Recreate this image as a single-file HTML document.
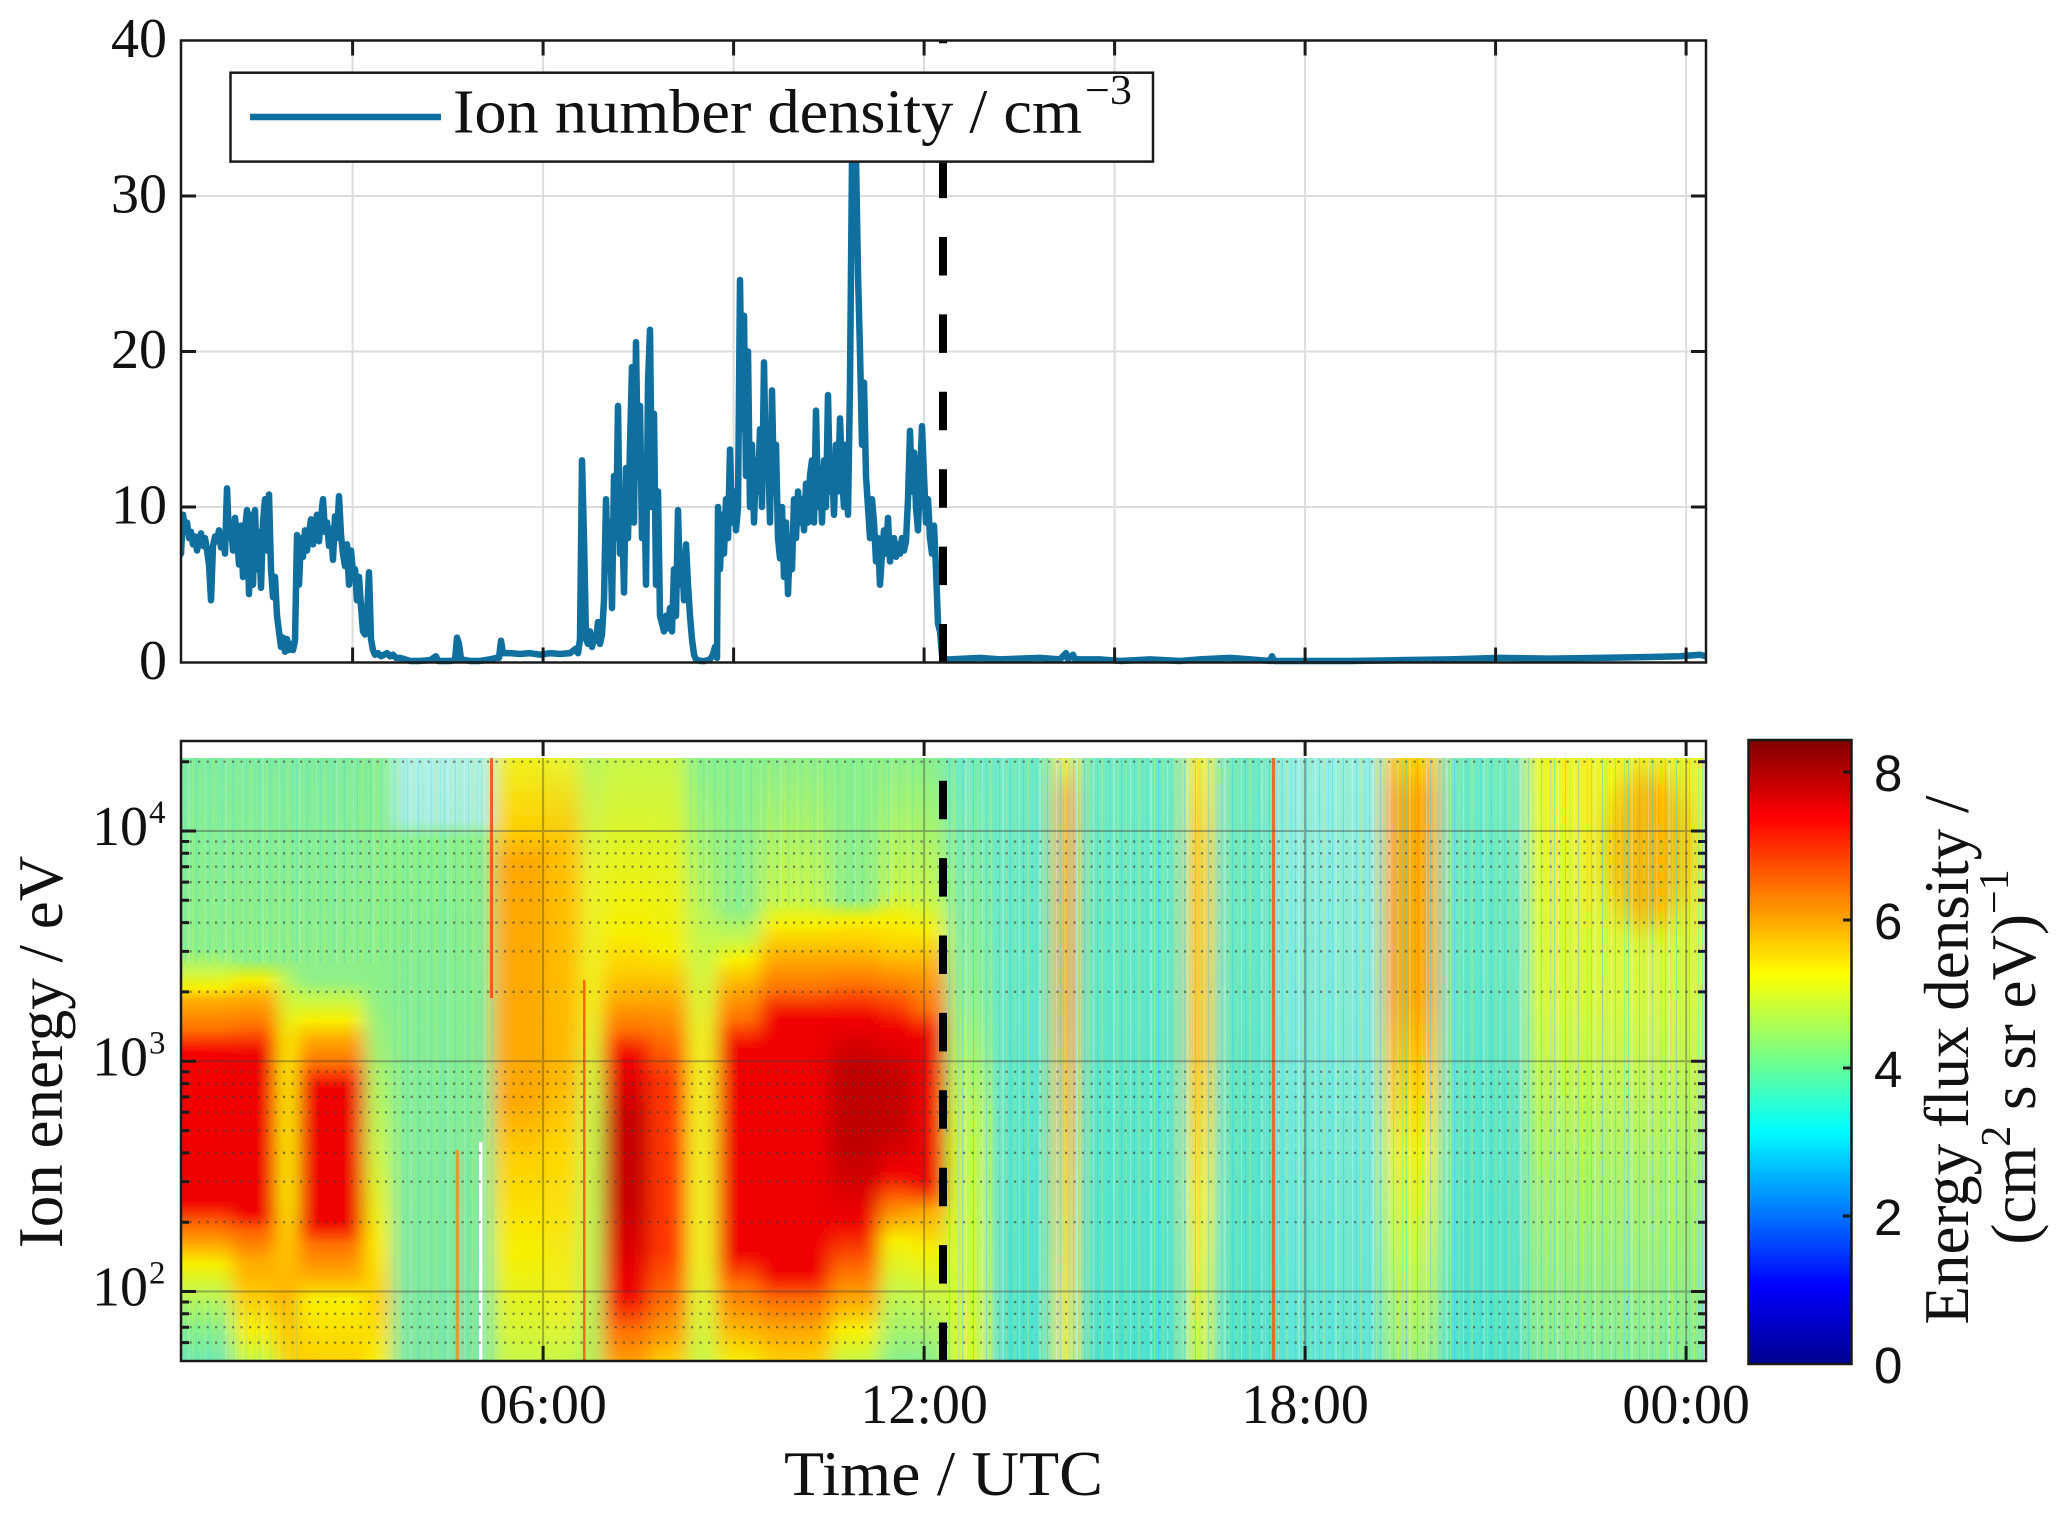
<!DOCTYPE html>
<html><head><meta charset="utf-8"><style>html,body{margin:0;padding:0;background:#fff}svg{display:block}</style></head>
<body>
<svg xmlns="http://www.w3.org/2000/svg" width="2067" height="1526" viewBox="0 0 2067 1526">
<defs>
<clipPath id="cSpec"><rect x="181" y="758" width="1523" height="603"/></clipPath>
<clipPath id="cTop"><rect x="181" y="30" width="1525" height="640"/></clipPath>
<filter id="hb" x="-3%" y="0" width="106%" height="100%"><feGaussianBlur stdDeviation="9 0"/></filter>
<filter id="bb" x="-50%" y="-50%" width="200%" height="200%"><feGaussianBlur stdDeviation="14"/></filter>
<pattern id="st" patternUnits="userSpaceOnUse" width="37" height="10">
<rect x="0" y="0" width="1" height="10" fill="#38d8f0" opacity=".55"/>
<rect x="3" y="0" width="2" height="10" fill="#d8fbf4" opacity=".35"/>
<rect x="7" y="0" width="1" height="10" fill="#f0f030" opacity=".35"/>
<rect x="11" y="0" width="1" height="10" fill="#28d0e8" opacity=".5"/>
<rect x="15" y="0" width="2" height="10" fill="#a0f070" opacity=".35"/>
<rect x="20" y="0" width="1" height="10" fill="#ffffff" opacity=".3"/>
<rect x="24" y="0" width="1" height="10" fill="#30d4e8" opacity=".45"/>
<rect x="28" y="0" width="2" height="10" fill="#e8f040" opacity=".3"/>
<rect x="33" y="0" width="1" height="10" fill="#50e0f0" opacity=".4"/>
</pattern>
<linearGradient id="jet" x1="0" y1="0" x2="0" y2="1">
<stop offset="0" stop-color="#800000"/><stop offset=".125" stop-color="#ff0000"/><stop offset=".375" stop-color="#ffff00"/><stop offset=".625" stop-color="#00ffff"/><stop offset=".875" stop-color="#0000ff"/><stop offset="1" stop-color="#00008f"/>
</linearGradient>
<linearGradient id="gA" gradientUnits="userSpaceOnUse" x1="0" y1="0" x2="0" y2="2000">
<stop offset=".379" stop-color="#80eca0"/><stop offset=".475" stop-color="#8ef088"/><stop offset=".486" stop-color="#c8f84a"/><stop offset=".494" stop-color="#f8f000"/><stop offset=".5" stop-color="#ffb000"/><stop offset=".515" stop-color="#ff7000"/><stop offset=".527" stop-color="#f40000"/><stop offset=".6" stop-color="#f00000"/><stop offset=".611" stop-color="#ff6000"/><stop offset=".622" stop-color="#ffa800"/><stop offset=".632" stop-color="#f8f000"/><stop offset=".645" stop-color="#c8f84a"/><stop offset=".665" stop-color="#88f08c"/><stop offset=".681" stop-color="#70e8b0"/>
</linearGradient>
<linearGradient id="gB" gradientUnits="userSpaceOnUse" x1="0" y1="0" x2="0" y2="2000">
<stop offset=".379" stop-color="#80eca0"/><stop offset=".48" stop-color="#8ef088"/><stop offset=".49" stop-color="#f8f000"/><stop offset=".5" stop-color="#ffa800"/><stop offset=".513" stop-color="#ff7000"/><stop offset=".528" stop-color="#f00000"/><stop offset=".605" stop-color="#f00000"/><stop offset=".615" stop-color="#ff6000"/><stop offset=".63" stop-color="#ffa800"/><stop offset=".65" stop-color="#ffd000"/><stop offset=".665" stop-color="#f8f000"/><stop offset=".681" stop-color="#c8f84a"/>
</linearGradient>
<linearGradient id="gC" gradientUnits="userSpaceOnUse" x1="0" y1="0" x2="0" y2="2000">
<stop offset=".379" stop-color="#80eca0"/><stop offset=".48" stop-color="#90f088"/><stop offset=".495" stop-color="#c8f84a"/><stop offset=".52" stop-color="#f8f000"/><stop offset=".6" stop-color="#f8f000"/><stop offset=".625" stop-color="#ffd000"/><stop offset=".65" stop-color="#ffa800"/><stop offset=".681" stop-color="#ffd000"/>
</linearGradient>
<linearGradient id="gD" gradientUnits="userSpaceOnUse" x1="0" y1="0" x2="0" y2="2000">
<stop offset=".379" stop-color="#80eca0"/><stop offset=".49" stop-color="#8ef088"/><stop offset=".5" stop-color="#c8f84a"/><stop offset=".51" stop-color="#f8f000"/><stop offset=".52" stop-color="#ffa800"/><stop offset=".532" stop-color="#ff7000"/><stop offset=".545" stop-color="#f00000"/><stop offset=".61" stop-color="#f00000"/><stop offset=".622" stop-color="#ff7000"/><stop offset=".637" stop-color="#ffa800"/><stop offset=".65" stop-color="#f8f000"/><stop offset=".681" stop-color="#ffd000"/>
</linearGradient>
<linearGradient id="gE" gradientUnits="userSpaceOnUse" x1="0" y1="0" x2="0" y2="2000">
<stop offset=".379" stop-color="#88f08c"/><stop offset=".5" stop-color="#8cf088"/><stop offset=".575" stop-color="#c8f84a"/><stop offset=".62" stop-color="#f8f000"/><stop offset=".65" stop-color="#ffd000"/><stop offset=".681" stop-color="#f8f000"/>
</linearGradient>
<linearGradient id="gF" gradientUnits="userSpaceOnUse" x1="0" y1="0" x2="0" y2="2000">
<stop offset=".379" stop-color="#b0f0e4"/><stop offset=".41" stop-color="#a8eee0"/><stop offset=".42" stop-color="#88f08c"/><stop offset=".681" stop-color="#7ee8a4"/>
</linearGradient>
<linearGradient id="gJ" gradientUnits="userSpaceOnUse" x1="0" y1="0" x2="0" y2="2000">
<stop offset=".379" stop-color="#f0f020"/><stop offset=".415" stop-color="#ffd000"/><stop offset=".43" stop-color="#ffa800"/><stop offset=".55" stop-color="#ffa800"/><stop offset=".58" stop-color="#ffd000"/><stop offset=".625" stop-color="#f8f000"/><stop offset=".681" stop-color="#c8f84a"/>
</linearGradient>
<linearGradient id="gK1" gradientUnits="userSpaceOnUse" x1="0" y1="0" x2="0" y2="2000">
<stop offset=".379" stop-color="#e8f430"/><stop offset=".425" stop-color="#ffc000"/><stop offset=".54" stop-color="#ffb800"/><stop offset=".575" stop-color="#ffd800"/><stop offset=".65" stop-color="#f0f020"/><stop offset=".681" stop-color="#c8f84a"/>
</linearGradient>
<linearGradient id="gK2" gradientUnits="userSpaceOnUse" x1="0" y1="0" x2="0" y2="2000">
<stop offset=".379" stop-color="#b8f460"/><stop offset=".44" stop-color="#e8f430"/><stop offset=".5" stop-color="#f0f020"/><stop offset=".55" stop-color="#c8f84a"/><stop offset=".681" stop-color="#b0f060"/>
</linearGradient>
<linearGradient id="gL" gradientUnits="userSpaceOnUse" x1="0" y1="0" x2="0" y2="2000">
<stop offset=".379" stop-color="#c8f84a"/><stop offset=".465" stop-color="#f8f000"/><stop offset=".485" stop-color="#ffd000"/><stop offset=".5" stop-color="#ffa800"/><stop offset=".515" stop-color="#ff7000"/><stop offset=".53" stop-color="#f00000"/><stop offset=".56" stop-color="#c80000"/><stop offset=".6" stop-color="#c80000"/><stop offset=".645" stop-color="#f00000"/><stop offset=".665" stop-color="#ff7000"/><stop offset=".681" stop-color="#ffa000"/>
</linearGradient>
<linearGradient id="gM" gradientUnits="userSpaceOnUse" x1="0" y1="0" x2="0" y2="2000">
<stop offset=".379" stop-color="#c8f84a"/><stop offset=".475" stop-color="#f8f000"/><stop offset=".5" stop-color="#ffa800"/><stop offset=".52" stop-color="#ff7000"/><stop offset=".54" stop-color="#ff3800"/><stop offset=".625" stop-color="#ff3800"/><stop offset=".65" stop-color="#ff7000"/><stop offset=".67" stop-color="#ffa800"/><stop offset=".681" stop-color="#ffd000"/>
</linearGradient>
<linearGradient id="gN" gradientUnits="userSpaceOnUse" x1="0" y1="0" x2="0" y2="2000">
<stop offset=".379" stop-color="#88f08c"/><stop offset=".475" stop-color="#c8f84a"/><stop offset=".525" stop-color="#f0f020"/><stop offset=".625" stop-color="#f0f020"/><stop offset=".681" stop-color="#c8f84a"/>
</linearGradient>
<linearGradient id="gO" gradientUnits="userSpaceOnUse" x1="0" y1="0" x2="0" y2="2000">
<stop offset=".379" stop-color="#88f08c"/><stop offset=".455" stop-color="#90f088"/><stop offset=".47" stop-color="#c8f84a"/><stop offset=".48" stop-color="#f8f000"/><stop offset=".495" stop-color="#ffa800"/><stop offset=".51" stop-color="#ff7000"/><stop offset=".525" stop-color="#f00000"/><stop offset=".625" stop-color="#f00000"/><stop offset=".642" stop-color="#ff7000"/><stop offset=".66" stop-color="#ffa800"/><stop offset=".681" stop-color="#f8f000"/>
</linearGradient>
<linearGradient id="gP" gradientUnits="userSpaceOnUse" x1="0" y1="0" x2="0" y2="2000">
<stop offset=".379" stop-color="#90f088"/><stop offset=".45" stop-color="#c8f84a"/><stop offset=".4625" stop-color="#f8f000"/><stop offset=".48" stop-color="#ffa800"/><stop offset=".495" stop-color="#ff7000"/><stop offset=".51" stop-color="#f00000"/><stop offset=".635" stop-color="#f00000"/><stop offset=".65" stop-color="#ff7000"/><stop offset=".665" stop-color="#ffa800"/><stop offset=".681" stop-color="#ffd000"/>
</linearGradient>
<linearGradient id="gQ" gradientUnits="userSpaceOnUse" x1="0" y1="0" x2="0" y2="2000">
<stop offset=".379" stop-color="#88f08c"/><stop offset=".45" stop-color="#90f088"/><stop offset=".46" stop-color="#f8f000"/><stop offset=".47" stop-color="#ffd000"/><stop offset=".48" stop-color="#ffa800"/><stop offset=".4925" stop-color="#ff7000"/><stop offset=".51" stop-color="#f00000"/><stop offset=".535" stop-color="#c00000"/><stop offset=".575" stop-color="#c00000"/><stop offset=".61" stop-color="#f00000"/><stop offset=".635" stop-color="#ff7000"/><stop offset=".65" stop-color="#ffa800"/><stop offset=".665" stop-color="#f8f000"/><stop offset=".681" stop-color="#c8f84a"/>
</linearGradient>
<linearGradient id="gR" gradientUnits="userSpaceOnUse" x1="0" y1="0" x2="0" y2="2000">
<stop offset=".379" stop-color="#90f088"/><stop offset=".445" stop-color="#c8f84a"/><stop offset=".46" stop-color="#f8f000"/><stop offset=".475" stop-color="#ffd000"/><stop offset=".495" stop-color="#ff7000"/><stop offset=".515" stop-color="#f00000"/><stop offset=".54" stop-color="#c40000"/><stop offset=".565" stop-color="#c40000"/><stop offset=".585" stop-color="#f00000"/><stop offset=".6" stop-color="#ff7000"/><stop offset=".62" stop-color="#f8f000"/><stop offset=".645" stop-color="#c8f84a"/><stop offset=".681" stop-color="#88f08c"/>
</linearGradient>
<linearGradient id="gS" gradientUnits="userSpaceOnUse" x1="0" y1="0" x2="0" y2="2000">
<stop offset=".379" stop-color="#88f08c"/><stop offset=".45" stop-color="#c8f84a"/><stop offset=".465" stop-color="#f8f000"/><stop offset=".485" stop-color="#ffa800"/><stop offset=".505" stop-color="#ff7000"/><stop offset=".52" stop-color="#f00000"/><stop offset=".59" stop-color="#f00000"/><stop offset=".605" stop-color="#ffa800"/><stop offset=".625" stop-color="#f8f000"/><stop offset=".65" stop-color="#c8f84a"/><stop offset=".681" stop-color="#88f08c"/>
</linearGradient>
<linearGradient id="gRB" gradientUnits="userSpaceOnUse" x1="0" y1="0" x2="0" y2="2000">
<stop offset=".379" stop-color="#72eac2"/><stop offset=".681" stop-color="#50e2cc"/>
</linearGradient>
<linearGradient id="gT" gradientUnits="userSpaceOnUse" x1="0" y1="0" x2="0" y2="2000">
<stop offset=".379" stop-color="#72eac2"/><stop offset=".5" stop-color="#90f090"/><stop offset=".56" stop-color="#c0f850"/><stop offset=".681" stop-color="#d8f830"/>
</linearGradient>
<linearGradient id="gU" gradientUnits="userSpaceOnUse" x1="0" y1="0" x2="0" y2="2000">
<stop offset=".379" stop-color="#f8f000"/><stop offset=".4" stop-color="#ffb000"/><stop offset=".5" stop-color="#ffa800"/><stop offset=".575" stop-color="#ffc800"/><stop offset=".681" stop-color="#f0f020"/>
</linearGradient>
<linearGradient id="gV" gradientUnits="userSpaceOnUse" x1="0" y1="0" x2="0" y2="2000">
<stop offset=".379" stop-color="#f8f000"/><stop offset=".425" stop-color="#ffd000"/><stop offset=".525" stop-color="#ffc800"/><stop offset=".6" stop-color="#f8f000"/><stop offset=".681" stop-color="#d0f840"/>
</linearGradient>
<linearGradient id="gX" gradientUnits="userSpaceOnUse" x1="0" y1="0" x2="0" y2="2000">
<stop offset=".379" stop-color="#98eee0"/><stop offset=".681" stop-color="#60e4d4"/>
</linearGradient>
<linearGradient id="gY" gradientUnits="userSpaceOnUse" x1="0" y1="0" x2="0" y2="2000">
<stop offset=".379" stop-color="#ffd000"/><stop offset=".4" stop-color="#ffa800"/><stop offset=".5" stop-color="#ffa800"/><stop offset=".54" stop-color="#ffd000"/><stop offset=".575" stop-color="#f0f020"/><stop offset=".625" stop-color="#c8f84a"/><stop offset=".681" stop-color="#a0f080"/>
</linearGradient>
<linearGradient id="gZ" gradientUnits="userSpaceOnUse" x1="0" y1="0" x2="0" y2="2000">
<stop offset=".379" stop-color="#f0f428"/><stop offset=".5" stop-color="#d8f840"/><stop offset=".575" stop-color="#b0f468"/><stop offset=".681" stop-color="#88ec98"/>
</linearGradient>
</defs>

<rect x="0" y="0" width="2067" height="1526" fill="#ffffff"/>

<!-- ================= TOP AXES ================= -->
<g stroke="#dcdcdc" stroke-width="2">
<line x1="181" y1="507" x2="1706" y2="507"/>
<line x1="181" y1="351.5" x2="1706" y2="351.5"/>
<line x1="181" y1="196" x2="1706" y2="196"/>
<line x1="352.6" y1="40.5" x2="352.6" y2="662.5"/>
<line x1="543.1" y1="40.5" x2="543.1" y2="662.5"/>
<line x1="733.6" y1="40.5" x2="733.6" y2="662.5"/>
<line x1="924.1" y1="40.5" x2="924.1" y2="662.5"/>
<line x1="1114.6" y1="40.5" x2="1114.6" y2="662.5"/>
<line x1="1305.1" y1="40.5" x2="1305.1" y2="662.5"/>
<line x1="1495.6" y1="40.5" x2="1495.6" y2="662.5"/>
<line x1="1686.1" y1="40.5" x2="1686.1" y2="662.5"/>
</g>

<g clip-path="url(#cTop)">
<polyline transform="matrix(1,0,0,-15.55,0,662.5)" vector-effect="non-scaling-stroke" fill="none" stroke="#0f6f9e" stroke-width="6.5" stroke-linejoin="round" stroke-linecap="round"
points="181,7.0 183,9.5 185,8.6 187,9.0 189,8.0 191,8.4 193,7.6 195,8.1 197,7.2 199,7.9 201,8.3 203,7.5 205,8.0 207,7.2 209,6.3 211,4.0 213,7.5 215,8.1 217,7.8 219,8.5 221,7.4 223,8.2 225,7.0 227,11.2 229,8.0 231,9.0 233,7.2 235,9.3 237,8.2 239,6.3 241,8.8 243,5.5 245,8.5 247,9.8 249,4.4 251,9.5 253,5.0 255,9.8 257,6.0 259,8.4 261,4.8 263,9.0 265,10.5 267,7.2 269,10.8 271,6.0 273,4.2 275,5.5 277,3.0 279,2.0 281,1.0 283,1.6 285,0.7 287,1.5 289,0.8 291,1.2 293,0.8 295,1.4 297,8.2 299,5.0 301,8.0 303,6.8 305,8.5 307,7.2 309,8.3 311,9.2 313,7.6 315,8.8 317,9.5 319,7.8 321,9.3 323,10.5 325,8.4 327,9.0 329,7.5 331,8.6 333,6.6 335,9.4 337,8.0 339,10.7 341,8.2 343,7.0 345,6.2 347,7.6 349,5.0 351,7.2 353,5.8 355,6.0 357,4.0 359,5.5 361,3.6 363,2.0 365,1.8 367,3.0 369,5.8 371,1.5 373,0.8 375,0.5 378,0.6 381,0.4 384,0.5 387,0.6 390,0.4 393,0.5 396,0.3 400,0.3 405,0.2 410,0.1 420,0.1 430,0.15 436,0.4 438,0.1 450,0.1 455,0.15 457,1.6 459,1.2 461,0.2 470,0.1 480,0.1 490,0.2 496,0.3 499,0.3 501,1.4 503,0.6 510,0.6 520,0.55 530,0.6 540,0.5 550,0.6 560,0.55 570,0.6 576,0.9 578,0.6 580,1.5 582,13.0 584,8.0 586,1.5 588,1.2 590,2.0 592,1.0 594,1.6 596,1.4 598,2.6 600,1.2 602,1.8 604,4.0 606,10.5 608,6.0 610,9.0 612,3.5 614,12.0 616,8.0 618,16.5 620,7.0 622,10.0 624,4.5 626,12.5 628,8.0 630,14.0 632,19.0 634,9.0 636,20.6 638,12.0 640,16.5 642,8.0 644,13.0 646,5.0 648,18.0 650,21.4 652,10.0 654,16.0 656,5.0 658,11.0 660,3.0 662,2.5 664,2.0 666,3.0 668,2.2 670,3.5 672,2.0 674,6.0 676,3.0 678,9.8 680,5.0 682,7.0 684,4.0 686,7.6 688,5.0 690,3.0 692,1.5 694,0.5 696,0.2 700,0.1 705,0.1 710,0.2 713,0.5 715,1.0 717,0.3 718,10.0 720,6.0 722,9.5 724,7.0 726,10.5 728,8.0 730,13.7 732,9.0 734,11.0 736,8.5 738,10.0 740,24.6 742,15.0 744,22.3 746,12.0 748,20.0 750,10.0 752,14.0 754,9.0 756,13.0 758,11.0 760,15.0 762,10.0 764,19.3 766,12.0 768,14.0 770,9.0 772,17.5 774,11.0 776,14.0 778,8.0 780,6.7 782,10.0 784,5.5 786,9.0 788,4.4 790,8.0 792,6.0 794,10.5 796,8.0 798,11.0 800,9.0 802,10.5 804,8.5 806,11.5 808,9.0 810,12.0 812,13.0 814,9.0 816,16.2 818,10.0 820,12.5 822,9.0 824,13.0 826,10.0 828,17.2 830,11.0 832,13.0 834,9.5 836,14.0 838,11.0 840,15.7 842,12.0 844,10.0 846,14.0 848,9.5 850,18.0 852,32.3 854,30.0 856,32.5 858,25.0 860,20.0 862,14.0 864,18.0 866,12.0 868,10.0 870,8.0 872,10.5 874,9.0 876,6.5 878,8.0 880,5.0 882,7.0 884,8.5 886,7.0 888,9.3 890,6.5 892,7.5 894,8.0 896,6.8 898,7.6 900,7.0 902,8.0 904,7.2 906,7.8 908,10.5 910,14.9 912,11.0 914,13.5 916,10.0 918,8.5 920,12.0 922,15.2 924,12.0 926,9.0 928,10.5 930,8.0 932,7.0 934,8.8 936,6.0 938,2.5 940,2.0 942,0.5 944,0.3 946,0.2 950,0.2 980,0.3 1000,0.2 1040,0.3 1060,0.2 1066,0.6 1068,0.2 1073,0.5 1075,0.2 1100,0.2 1120,0.1 1150,0.2 1180,0.1 1200,0.2 1230,0.3 1250,0.2 1270,0.1 1272,0.4 1274,0.1 1300,0.1 1350,0.1 1400,0.15 1450,0.2 1500,0.3 1550,0.25 1600,0.3 1650,0.35 1680,0.4 1700,0.5 1706,0.4"/>
</g>

<!-- dashed line top -->
<line x1="943" y1="662.5" x2="943" y2="40.5" stroke="#000" stroke-width="8" stroke-dasharray="38.5 38.9"/>

<!-- legend -->
<rect x="230.5" y="72.7" width="922.5" height="88.9" fill="#fff" stroke="#1a1a1a" stroke-width="2.5"/>
<line x1="250" y1="117" x2="441" y2="117" stroke="#0f6f9e" stroke-width="6.5"/>
<text x="453" y="132.5" font-family="'Liberation Serif', serif" font-size="62" fill="#111" textLength="629" lengthAdjust="spacingAndGlyphs">Ion number density / cm</text>
<text x="1085" y="104" font-family="'Liberation Serif', serif" font-size="42" fill="#111" textLength="47" lengthAdjust="spacingAndGlyphs">−3</text>

<!-- top axes box & ticks -->
<rect x="181" y="40.5" width="1525" height="622" fill="none" stroke="#1a1a1a" stroke-width="2.5"/>
<g stroke="#1a1a1a" stroke-width="3">
<line x1="181" y1="507" x2="196" y2="507"/><line x1="181" y1="351.5" x2="196" y2="351.5"/><line x1="181" y1="196" x2="196" y2="196"/>
<line x1="1706" y1="507" x2="1691" y2="507"/><line x1="1706" y1="351.5" x2="1691" y2="351.5"/><line x1="1706" y1="196" x2="1691" y2="196"/>
<line x1="352.6" y1="662.5" x2="352.6" y2="647.5"/><line x1="543.1" y1="662.5" x2="543.1" y2="647.5"/><line x1="733.6" y1="662.5" x2="733.6" y2="647.5"/><line x1="924.1" y1="662.5" x2="924.1" y2="647.5"/><line x1="1114.6" y1="662.5" x2="1114.6" y2="647.5"/><line x1="1305.1" y1="662.5" x2="1305.1" y2="647.5"/><line x1="1495.6" y1="662.5" x2="1495.6" y2="647.5"/><line x1="1686.1" y1="662.5" x2="1686.1" y2="647.5"/>
<line x1="352.6" y1="40.5" x2="352.6" y2="55.5"/><line x1="543.1" y1="40.5" x2="543.1" y2="55.5"/><line x1="733.6" y1="40.5" x2="733.6" y2="55.5"/><line x1="924.1" y1="40.5" x2="924.1" y2="55.5"/><line x1="1114.6" y1="40.5" x2="1114.6" y2="55.5"/><line x1="1305.1" y1="40.5" x2="1305.1" y2="55.5"/><line x1="1495.6" y1="40.5" x2="1495.6" y2="55.5"/><line x1="1686.1" y1="40.5" x2="1686.1" y2="55.5"/>
</g>
<g font-family="'Liberation Serif', serif" font-size="56" fill="#111" text-anchor="end">
<text x="167" y="679">0</text>
<text x="167" y="523.5">10</text>
<text x="167" y="368">20</text>
<text x="167" y="212.5">30</text>
<text x="167" y="57">40</text>
</g>

<!-- ================= BOTTOM AXES (spectrogram) ================= -->
<g clip-path="url(#cSpec)">
<g filter="url(#hb)">
<rect x="940" y="758" width="790" height="604" fill="url(#gRB)"/>
<rect x="150" y="758" width="82" height="604" fill="url(#gA)"/>
<rect x="232" y="758" width="46" height="604" fill="url(#gB)"/>
<rect x="278" y="758" width="19" height="604" fill="url(#gC)"/>
<rect x="297" y="758" width="68" height="604" fill="url(#gD)"/>
<rect x="365" y="758" width="27" height="604" fill="url(#gE)"/>
<rect x="392" y="758" width="101" height="604" fill="url(#gF)"/>
<rect x="493" y="758" width="52" height="604" fill="url(#gJ)"/>
<rect x="545" y="758" width="35" height="604" fill="url(#gK1)"/>
<rect x="580" y="758" width="23" height="604" fill="url(#gK2)"/>
<rect x="603" y="758" width="47" height="604" fill="url(#gL)"/>
<rect x="650" y="758" width="37" height="604" fill="url(#gM)"/>
<rect x="687" y="758" width="30" height="604" fill="url(#gN)"/>
<rect x="717" y="758" width="43" height="604" fill="url(#gO)"/>
<rect x="760" y="758" width="70" height="604" fill="url(#gP)"/>
<rect x="830" y="758" width="50" height="604" fill="url(#gQ)"/>
<rect x="880" y="758" width="32" height="604" fill="url(#gR)"/>
<rect x="912" y="758" width="34" height="604" fill="url(#gS)"/>
<rect x="946" y="758" width="44" height="604" fill="url(#gT)"/>
<rect x="1054" y="758" width="23" height="604" fill="url(#gU)"/>
<rect x="1186" y="758" width="28" height="604" fill="url(#gV)"/>
<rect x="1276" y="758" width="107" height="604" fill="url(#gX)"/>
<rect x="1383" y="758" width="57" height="604" fill="url(#gY)"/>
<rect x="1527" y="758" width="203" height="604" fill="url(#gZ)"/>
</g>
<ellipse cx="1648" cy="850" rx="42" ry="80" fill="#ffa000" opacity=".75" filter="url(#bb)"/>
<!-- streak texture -->
<rect x="946" y="758" width="760" height="604" fill="url(#st)" opacity=".85"/>
<rect x="181" y="758" width="312" height="205" fill="url(#st)" opacity=".55"/>
<rect x="392" y="963" width="101" height="399" fill="url(#st)" opacity=".5"/>
<rect x="181" y="1300" width="116" height="62" fill="url(#st)" opacity=".45"/>
<rect x="687" y="758" width="230" height="150" fill="url(#st)" opacity=".45"/>
<!-- thin features -->
<rect x="479" y="1142" width="3.5" height="220" fill="#ffffff"/>
<rect x="490" y="758" width="3" height="240" fill="#ff4000" opacity=".8"/>
<rect x="456" y="1150" width="3" height="212" fill="#ff8000" opacity=".7"/>
<rect x="583" y="980" width="2.5" height="382" fill="#ff3000" opacity=".7"/>
<rect x="1272" y="758" width="3" height="604" fill="#ff5000" opacity=".8"/>
<!-- grid -->
<g stroke="#404040" stroke-width="2" opacity=".4">
<line x1="181" y1="831" x2="1706" y2="831"/>
<line x1="181" y1="1061.25" x2="1706" y2="1061.25"/>
<line x1="181" y1="1291.5" x2="1706" y2="1291.5"/>
<line x1="543.1" y1="741" x2="543.1" y2="1361"/>
<line x1="924.1" y1="741" x2="924.1" y2="1361"/>
<line x1="1305.1" y1="741" x2="1305.1" y2="1361"/>
<line x1="1686.1" y1="741" x2="1686.1" y2="1361"/>
</g>
<g stroke="#3a3a3a" stroke-width="2.2" stroke-dasharray="2.2 6.3" opacity=".6">
<line x1="181" y1="761.7" x2="1706" y2="761.7"/>
<line x1="181" y1="841.5" x2="1706" y2="841.5"/>
<line x1="181" y1="853.3" x2="1706" y2="853.3"/>
<line x1="181" y1="866.7" x2="1706" y2="866.7"/>
<line x1="181" y1="882.1" x2="1706" y2="882.1"/>
<line x1="181" y1="900.3" x2="1706" y2="900.3"/>
<line x1="181" y1="922.6" x2="1706" y2="922.6"/>
<line x1="181" y1="951.4" x2="1706" y2="951.4"/>
<line x1="181" y1="991.9" x2="1706" y2="991.9"/>
<line x1="181" y1="1071.8" x2="1706" y2="1071.8"/>
<line x1="181" y1="1083.6" x2="1706" y2="1083.6"/>
<line x1="181" y1="1096.9" x2="1706" y2="1096.9"/>
<line x1="181" y1="1112.3" x2="1706" y2="1112.3"/>
<line x1="181" y1="1130.6" x2="1706" y2="1130.6"/>
<line x1="181" y1="1152.9" x2="1706" y2="1152.9"/>
<line x1="181" y1="1181.6" x2="1706" y2="1181.6"/>
<line x1="181" y1="1222.2" x2="1706" y2="1222.2"/>
<line x1="181" y1="1302" x2="1706" y2="1302"/>
<line x1="181" y1="1313.8" x2="1706" y2="1313.8"/>
<line x1="181" y1="1327.2" x2="1706" y2="1327.2"/>
<line x1="181" y1="1342.6" x2="1706" y2="1342.6"/>
</g>
</g>

<!-- dashed line bottom -->
<line x1="943" y1="1361" x2="943" y2="741" stroke="#000" stroke-width="8" stroke-dasharray="38.5 38.9"/>

<!-- bottom axes box & ticks -->
<rect x="181" y="741" width="1525" height="620" fill="none" stroke="#1a1a1a" stroke-width="2.5"/>
<g stroke="#1a1a1a" stroke-width="3">
<line x1="181" y1="831" x2="196" y2="831"/><line x1="181" y1="1061.25" x2="196" y2="1061.25"/><line x1="181" y1="1291.5" x2="196" y2="1291.5"/>
<line x1="1706" y1="831" x2="1691" y2="831"/><line x1="1706" y1="1061.25" x2="1691" y2="1061.25"/><line x1="1706" y1="1291.5" x2="1691" y2="1291.5"/>
<line x1="543.1" y1="1361" x2="543.1" y2="1346"/><line x1="924.1" y1="1361" x2="924.1" y2="1346"/><line x1="1305.1" y1="1361" x2="1305.1" y2="1346"/><line x1="1686.1" y1="1361" x2="1686.1" y2="1346"/>
<line x1="543.1" y1="741" x2="543.1" y2="756"/><line x1="924.1" y1="741" x2="924.1" y2="756"/><line x1="1305.1" y1="741" x2="1305.1" y2="756"/><line x1="1686.1" y1="741" x2="1686.1" y2="756"/>
</g>
<g stroke="#1a1a1a" stroke-width="3">
<path d="M181 761.7h8M181 841.5h8M181 853.3h8M181 866.7h8M181 882.1h8M181 900.3h8M181 922.6h8M181 951.4h8M181 991.9h8M181 1071.8h8M181 1083.6h8M181 1096.9h8M181 1112.3h8M181 1130.6h8M181 1152.9h8M181 1181.6h8M181 1222.2h8M181 1302h8M181 1313.8h8M181 1327.2h8M181 1342.6h8"/>
<path d="M1706 761.7h-8M1706 841.5h-8M1706 853.3h-8M1706 866.7h-8M1706 882.1h-8M1706 900.3h-8M1706 922.6h-8M1706 951.4h-8M1706 991.9h-8M1706 1071.8h-8M1706 1083.6h-8M1706 1096.9h-8M1706 1112.3h-8M1706 1130.6h-8M1706 1152.9h-8M1706 1181.6h-8M1706 1222.2h-8M1706 1302h-8M1706 1313.8h-8M1706 1327.2h-8M1706 1342.6h-8"/>
</g>

<!-- bottom y tick labels -->
<g font-family="'Liberation Serif', serif" fill="#111">
<text x="148" y="845" font-size="56" text-anchor="end">10</text><text x="149" y="823" font-size="33">4</text>
<text x="148" y="1075.25" font-size="56" text-anchor="end">10</text><text x="149" y="1053.25" font-size="33">3</text>
<text x="148" y="1305.5" font-size="56" text-anchor="end">10</text><text x="149" y="1283.5" font-size="33">2</text>
</g>
<!-- x tick labels -->
<g font-family="'Liberation Serif', serif" font-size="56" fill="#111" text-anchor="middle">
<text x="543.1" y="1423">06:00</text>
<text x="924.1" y="1423">12:00</text>
<text x="1305.1" y="1423">18:00</text>
<text x="1686.1" y="1423">00:00</text>
</g>
<text x="943.5" y="1495" font-family="'Liberation Serif', serif" font-size="63" fill="#111" text-anchor="middle" textLength="319" lengthAdjust="spacingAndGlyphs">Time / UTC</text>
<text transform="translate(62,1052) rotate(-90)" font-family="'Liberation Serif', serif" font-size="63" fill="#111" text-anchor="middle">Ion energy / eV</text>

<!-- ================= COLORBAR ================= -->
<rect x="1748.5" y="740" width="103" height="624" fill="url(#jet)" stroke="#1a1a1a" stroke-width="2.5"/>
<g stroke="#1a1a1a" stroke-width="3">
<line x1="1843" y1="772" x2="1851" y2="772"/>
<line x1="1843" y1="920" x2="1851" y2="920"/>
<line x1="1843" y1="1068" x2="1851" y2="1068"/>
<line x1="1843" y1="1216" x2="1851" y2="1216"/>
</g>
<g font-family="'Liberation Sans', sans-serif" font-size="51" fill="#111">
<text x="1874" y="791">8</text>
<text x="1874" y="939">6</text>
<text x="1874" y="1087">4</text>
<text x="1874" y="1235">2</text>
<text x="1874" y="1383">0</text>
</g>
<text transform="translate(1968,1060) rotate(-90)" font-family="'Liberation Serif', serif" font-size="63" fill="#111" text-anchor="middle">Energy flux density /</text>
<text transform="translate(2035,1057) rotate(-90)" font-family="'Liberation Serif', serif" font-size="63" fill="#111" text-anchor="middle">(cm<tspan dy="-25" font-size="42">2</tspan><tspan dy="25"> s sr eV)</tspan><tspan dy="-27" font-size="42">−1</tspan></text>
</svg>
</body></html>
